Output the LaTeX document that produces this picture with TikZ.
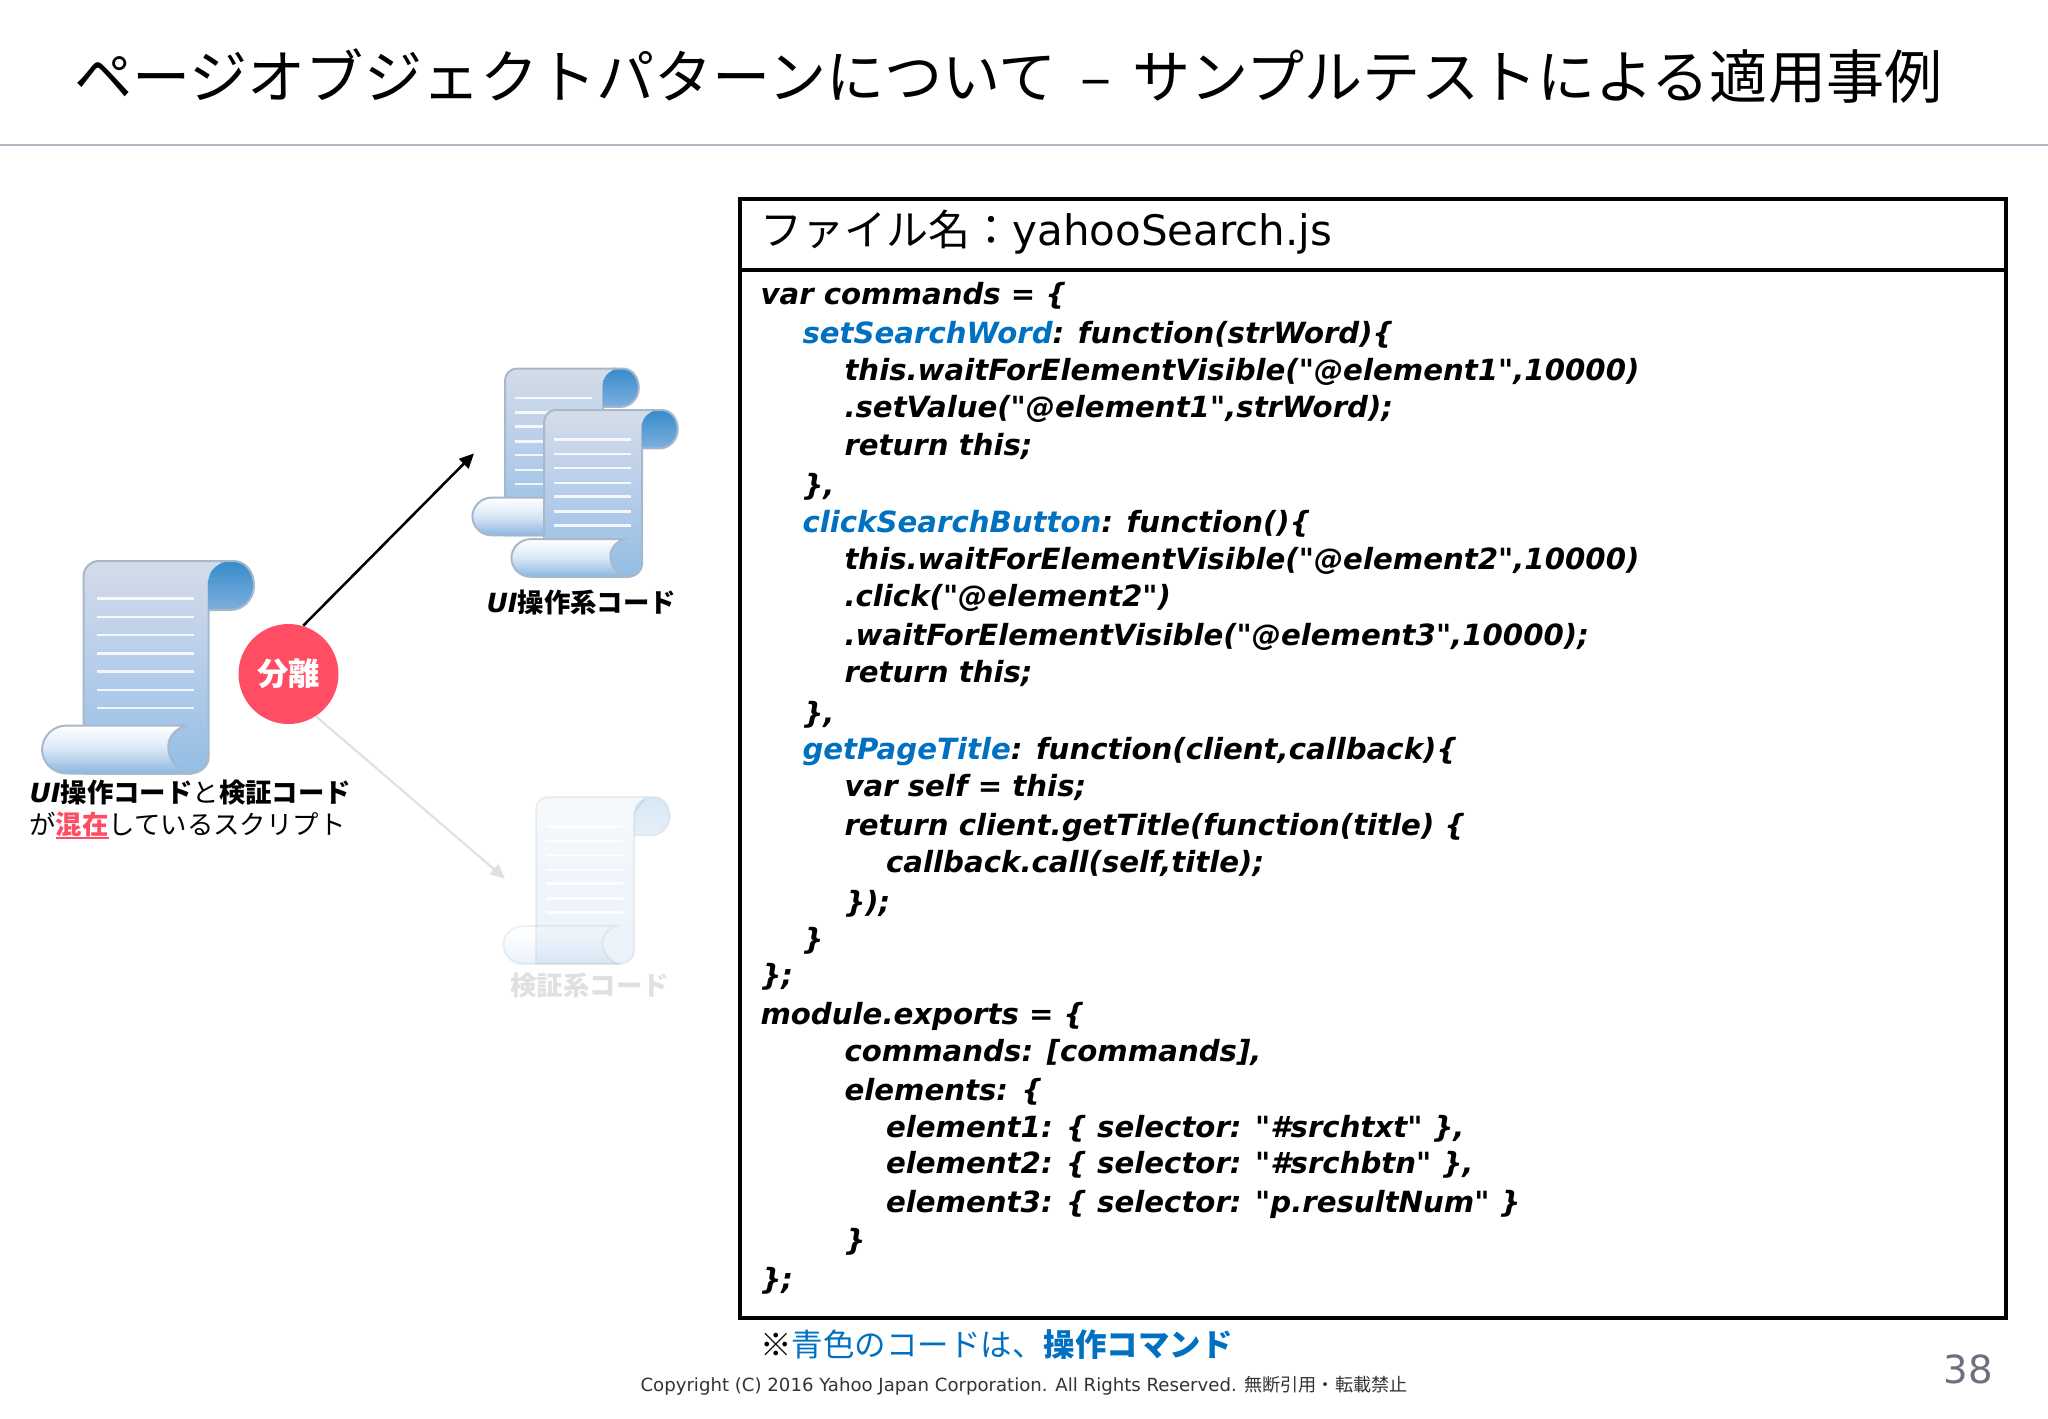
\documentclass[tikz,border=0pt]{standalone}
\usepackage{fontspec}
\defaultfontfeatures[\rmfamily]{}
\setmainfont{DejaVu Sans}
\newfontfamily\jpfont{Noto Sans CJK JP}
\usetikzlibrary{arrows.meta}
\definecolor{rulegray}{RGB}{180,182,198}
\definecolor{codeblue}{RGB}{0,112,192}
\definecolor{sepred}{RGB}{255,77,99}
\definecolor{fadegray}{RGB}{224,224,226}
\definecolor{numgray}{RGB}{110,110,126}
\definecolor{sheettop}{RGB}{212,220,232}
\definecolor{sheetmid}{RGB}{182,205,234}
\definecolor{sheetlow}{RGB}{147,190,228}
\definecolor{curltop}{RGB}{54,140,203}
\definecolor{curllow}{RGB}{125,175,222}
\definecolor{rollmid}{RGB}{216,231,246}
\definecolor{rolllow}{RGB}{140,182,226}
\definecolor{scrolledge}{RGB}{165,184,204}
\tikzset{every picture/.style={line width=0.75pt}}
\tikzset{
  titletxt/.style={anchor=base west,inner sep=0pt,font=\jpfont\fontsize{43.6}{50}\selectfont},
  headtxt/.style={anchor=base west,inner sep=0pt,font=\fontsize{31.5}{38}\selectfont},
  codetxt/.style={anchor=base west,inner sep=0pt,font=\fontsize{21.9}{26}\selectfont\bfseries\itshape},
  labeltxt/.style={anchor=base west,inner sep=0pt,font=\jpfont\fontsize{19.8}{24}\selectfont},
  scrollpic/.pic={
    %sheet
    \draw [scrolledge,line width=1.5pt,top color=sheettop,bottom color=sheetlow,middle color=sheetmid] (0,170) -- (0,15) .. controls (0,7) and (7,0) .. (15,0) -- (140,0) -- (125,20) -- (125,196) .. controls (125,205) and (117,212.5) .. (106,212.5) -- (0,212.5) -- cycle ;
    %curl
    \shade [top color=curltop,bottom color=curllow] (150,0) .. controls (136,0) and (125,8) .. (125,20) -- (125,49) -- (147,49) .. controls (160,49) and (170.4,38) .. (170.4,24.5) .. controls (170.4,11) and (162,0) .. (150,0) -- cycle ;
    \draw [scrolledge,line width=1.5pt] (138,0) -- (150,0) .. controls (162,0) and (170.4,11) .. (170.4,24.5) .. controls (170.4,38) and (160,49) .. (147,49) -- (125,49) ;
    %text lines
    \draw [white,line width=1.9pt,opacity=0.85] (13,37.3) -- (110.4,37.3) (13,56) -- (110.4,56) (13,74) -- (110.4,74) (13,92.7) -- (110.4,92.7) (13,110.3) -- (110.4,110.3) (13,129) -- (110.4,129) (13,147) -- (110.4,147) ;
    %roll
    \draw [scrolledge,line width=1.5pt,top color=white,bottom color=rolllow,middle color=rollmid] (-17,164.5) -- (101.4,164.5) .. controls (91,169) and (84.7,176) .. (84.7,186) .. controls (84.7,198) and (93,208) .. (105,212.5) -- (-17,212.5) .. controls (-31,212.5) and (-41.5,201) .. (-41.5,188.5) .. controls (-41.5,176) and (-31,164.5) .. (-17,164.5) -- cycle ;
  }
}
\begin{document}
\begin{tikzpicture}[x=0.75pt,y=0.75pt,yscale=-1,xscale=1]
\useasboundingbox (0,0) rectangle (2048,1418);

%Title and rule
\draw (74,98) node [titletxt] (pagetitle) {ページオブジェクトパターンについて\hspace{17.5pt}–\hspace{15.5pt}サンプルテストによる適用事例};
\draw [rulegray,line width=1.5pt] (0,145) -- (2048,145) ;

%Code box
\draw [line width=3.4pt] (740,199) rectangle (2006,1318) ;
\draw [line width=3.4pt] (740,270) -- (2006,270) ;

%Scrolls
\pic [yscale=-1] (scrollmix) at (83.6,561) {scrollpic};
\pic [scale=0.785,yscale=-1] (scrollback) at (505,368.5) {scrollpic};
\pic [scale=0.785,yscale=-1] (scrollfront) at (544,410) {scrollpic};
\pic [scale=0.785,yscale=-1,opacity=0.2] (scrollfade) at (536,797) {scrollpic};

%Separate circle
\node [circle,fill=sepred,minimum size=75pt,inner sep=0pt,text=white,font=\jpfont\fontsize{23.5}{28}\selectfont\bfseries] (sep) at (288.5,674) {分離\hspace{3pt}};
\coordinate (uiend) at (474,453.4);
\coordinate (checkend) at (505,878.6);
\draw [line width=1.9pt,-{Triangle[length=11pt,width=10pt]}] (sep.73) -- (uiend) ;
\draw [fadegray,line width=1.6pt,-{Triangle[length=11pt,width=10pt]}] (sep.-57) -- (checkend) ;

%Labels
\draw (29,802) node [labeltxt] (mixone) {{\fontspec{DejaVu Sans}\bfseries\itshape UI}\textbf{操作コード}と\textbf{検証コード}};
\draw (29,834) node [labeltxt] (mixtwo) {が\textcolor{sepred}{\rlap{\rule[-3.6pt]{2em}{1.7pt}}\textbf{混在}}しているスクリプト};
\draw (486,612) node [labeltxt] (uilabel) {{\fontspec{DejaVu Sans}\bfseries\itshape UI}\textbf{操作系コード}};
\draw (510,995) node [labeltxt,text=fadegray] (checklabel) {\textbf{検証系コード}};

%File name
\draw (760,245.5) node [headtxt] (filename) {{\jpfont ファイル名：}yahooSearch.js};

%Code lines
\draw (760,304) node [codetxt] (clA) {var commands = \{};
\draw (802,343) node [codetxt] (clB) {\textcolor{codeblue}{setSearchWord}: function(strWord)\{};
\draw (844,380) node [codetxt] (clC) {this.waitForElementVisible("@element1",10000)};
\draw (844,417.5) node [codetxt] (clD) {.setValue("@element1",strWord);};
\draw (844,455.5) node [codetxt] (clE) {return this;};
\draw (802,495) node [codetxt] (clF) {\},};
\draw (802,532.5) node [codetxt] (clG) {\textcolor{codeblue}{clickSearchButton}: function()\{};
\draw (844,569.5) node [codetxt] (clH) {this.waitForElementVisible("@element2",10000)};
\draw (844,606) node [codetxt] (clI) {.click("@element2")};
\draw (844,645.5) node [codetxt] (clJ) {.waitForElementVisible("@element3",10000);};
\draw (844,682) node [codetxt] (clK) {return this;};
\draw (802,723) node [codetxt] (clL) {\},};
\draw (802,759) node [codetxt] (clM) {\textcolor{codeblue}{getPageTitle}: function(client,callback)\{};
\draw (844,796) node [codetxt] (clN) {var self = this;};
\draw (844,835) node [codetxt] (clO) {return client.getTitle(function(title) \{};
\draw (885.6,872) node [codetxt] (clP) {callback.call(self,title);};
\draw (844,912) node [codetxt] (clQ) {\});};
\draw (802,949) node [codetxt] (clR) {\}};
\draw (760,985) node [codetxt] (clS) {\};};
\draw (760,1024) node [codetxt] (clT) {module.exports = \{};
\draw (844,1061) node [codetxt] (clU) {commands: [commands],};
\draw (844,1100) node [codetxt] (clV) {elements: \{};
\draw (885.6,1137) node [codetxt] (clW) {element1: \{ selector: "\#srchtxt" \},};
\draw (885.6,1173) node [codetxt] (clX) {element2: \{ selector: "\#srchbtn" \},};
\draw (885.6,1212) node [codetxt] (clY) {element3: \{ selector: "p.resultNum" \}};
\draw (844,1250) node [codetxt] (clZ) {\}};
\draw (760,1289.5) node [codetxt] (clEnd) {\};};

%Footer
\draw (760,1356) node [anchor=base west,inner sep=0pt,font=\jpfont\fontsize{23.6}{28}\selectfont] (bluenote) {※\textcolor{codeblue}{青色のコードは、\textbf{操作コマンド}}};
\draw (640,1391) node [anchor=base west,inner sep=0pt,text=black!80,font=\fontsize{13.6}{17}\selectfont] (copyline) {Copyright (C) 2016 Yahoo Japan Corporation. All Rights Reserved. {\jpfont 無断引用・転載禁止}};
\draw (1943,1383) node [anchor=base west,inner sep=0pt,text=numgray,font=\fontsize{29}{36}\selectfont] (pagenum) {38};
\end{tikzpicture}
\end{document}
